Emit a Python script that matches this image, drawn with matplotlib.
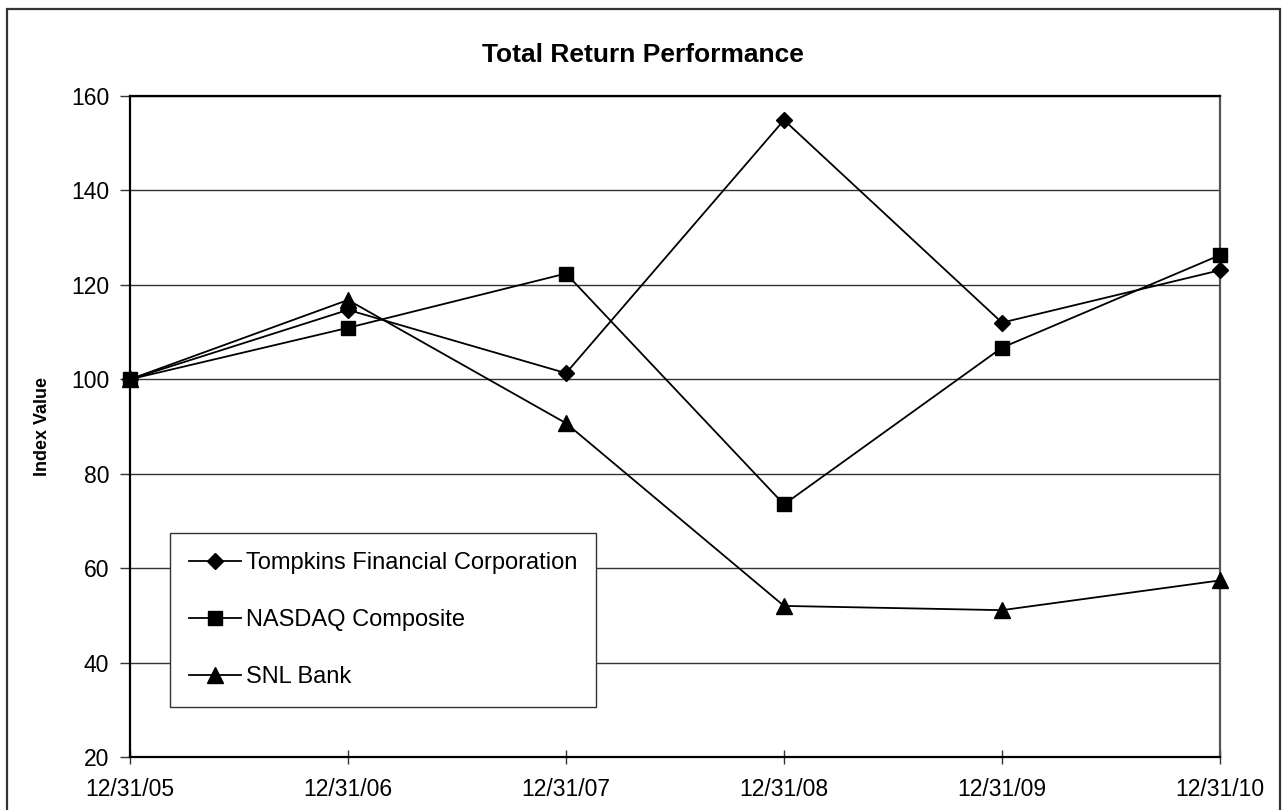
import matplotlib.pyplot as plt
from matplotlib.patches import Rectangle

# Index values
dates = ['12/31/05', '12/31/06', '12/31/07', '12/31/08', '12/31/09', '12/31/10']
tompkins = [100, 114.7, 101.3, 154.9, 112.0, 123.1]
nasdaq = [100, 110.9, 122.4, 73.5, 106.7, 126.3]
snl_bank = [100, 116.8, 90.7, 52.0, 51.1, 57.4]
y_ticks = [20, 40, 60, 80, 100, 120, 140, 160]

plt.rcParams['font.family'] = ['Liberation Sans', 'DejaVu Sans']

fig = plt.figure(figsize=(12.83, 8.10), dpi=100)
ax = fig.add_axes([130 / 1283, 1 - 757 / 810, 1090 / 1283, 661 / 810])

# outer chart frame
fig.patches.append(Rectangle((7 / 1283, -0.05), 1273 / 1283, 1.05 - 9 / 810,
                             transform=fig.transFigure, fill=False,
                             edgecolor='#333333', linewidth=1.6))

x = range(len(dates))
ax.plot(x, tompkins, color='black', lw=1.3, marker='D', markersize=8,
        label='Tompkins Financial Corporation', clip_on=False, zorder=3)
ax.plot(x, nasdaq, color='black', lw=1.3, marker='s', markersize=10,
        label='NASDAQ Composite', clip_on=False, zorder=3)
ax.plot(x, snl_bank, color='black', lw=1.3, marker='^', markersize=12,
        label='SNL Bank', clip_on=False, zorder=3)

ax.set_xlim(0, len(dates) - 1)
ax.set_ylim(20, 160)
ax.set_xticks(list(x))
ax.set_xticklabels(dates)
ax.set_yticks(y_ticks)
ax.tick_params(axis='both', labelsize=16.5, direction='inout', length=10,
               width=1, color='#333333', pad=10)
ax.tick_params(axis='y', direction='out', length=7, pad=8)
ax.grid(axis='y', color='#333333', linewidth=1)
ax.set_axisbelow(True)

for side in ['left', 'bottom', 'top']:
    ax.spines[side].set_linewidth(1.6)
    ax.spines[side].set_color('black')
ax.spines['right'].set_linewidth(1.6)
ax.spines['right'].set_color('#555555')

ax.set_ylabel('Index Value', fontsize=13, fontweight='bold', labelpad=14)
fig.text(643 / 1283, 1 - 55 / 810, 'Total Return Performance', ha='center',
         va='center', fontsize=19, fontweight='bold')

leg = ax.legend(loc='lower left', bbox_to_anchor=(40 / 1090, 50 / 661),
                fontsize=17, frameon=True, fancybox=False, shadow=False,
                handlelength=2.2, labelspacing=1.48, borderpad=0.8,
                handletextpad=0.2, borderaxespad=0)
leg.get_frame().set_edgecolor('#333333')
leg.get_frame().set_linewidth(1)
leg.get_frame().set_alpha(1)

fig.savefig('out.png', dpi=100)
